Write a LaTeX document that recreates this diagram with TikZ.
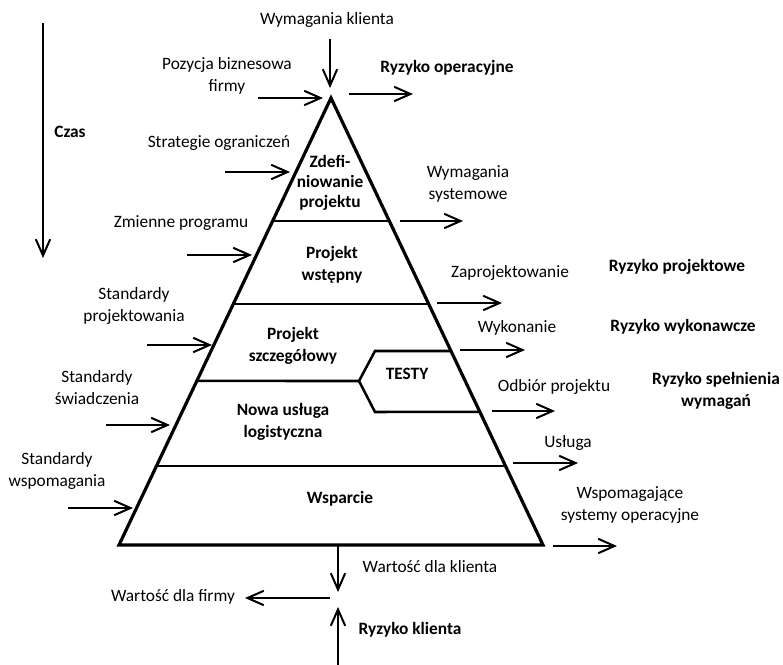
\documentclass[tikz,border=0pt]{standalone}
\usepackage{fontspec}
\setmainfont{Carlito}
\usetikzlibrary{arrows.meta, positioning, calc}

\begin{document}
\begin{tikzpicture}[
    x=0.75pt, y=-0.75pt,
    % Plain labels round the pyramid
    lbl/.style={align=center, inner sep=0pt,
                font=\fontsize{13}{16.5}\selectfont},
    % Bold labels (phases, risks)
    blbl/.style={align=center, inner sep=0pt,
                 font=\fontsize{13}{16.5}\selectfont\bfseries},
    % Pyramid outline and phase dividers
    pyr/.style={line width=2.4pt, line join=miter},
    divider/.style={line width=1.9pt},
    arrow/.style={-{Straight Barb[length=4.3mm, width=3.8mm]}, line width=1.5pt}
]
\useasboundingbox (0,0) rectangle (783,665);

%-------- PYRAMID --------
\coordinate (apex) at (331,98);
\coordinate (bl)   at (119,545);
\coordinate (br)   at (543,545);
\draw[pyr] (apex) -- (br) -- (bl) -- cycle;

\draw[divider] ($(apex)!0.275!(bl)$) -- ($(apex)!0.275!(br)$);
\draw[divider] ($(apex)!0.461!(bl)$) -- ($(apex)!0.461!(br)$);
\draw[divider] ($(apex)!0.823!(bl)$) -- ($(apex)!0.823!(br)$);

%-------- TESTY --------
\coordinate (tTop) at (375,351);
\coordinate (tTip) at (359,381);
\coordinate (tBot) at (375,412);
\draw[divider] ($(apex)!0.566!(br)$) -- (tTop) -- (tTip) -- (tBot)
               -- ($(apex)!0.702!(br)$);
\draw[divider] ($(apex)!0.633!(bl)$) -- (tTip);
\node[blbl] (testy) at (407,374) {TESTY};

%-------- PHASES --------
\node[blbl, font=\fontsize{13}{15}\selectfont\bfseries] (zdef) at (330,183)
    {Zdefi-\\niowanie\\projektu};
\node[blbl] (pwst)  at (332,265) {Projekt\\wstępny};
\node[blbl] (pszcz) at (293,346) {Projekt\\szczegółowy};
\node[blbl] (nowa)  at (283,422) {Nowa usługa\\logistyczna};
\node[blbl] (wsp)   at (340,499) {Wsparcie};

%-------- TIME --------
\node[blbl] (czas) at (70,132) {Czas};
\coordinate (czasA) at (43,23);
\coordinate (czasB) at (43,258);
\draw[arrow] (czasA) -- (czasB);

%-------- INPUTS (left, top) --------
\node[lbl] (wymkl)   at (327,20)  {Wymagania klienta};
\node[lbl] (pozycja) at (227,76)  {Pozycja biznesowa\\firmy};
\node[lbl] (strateg) at (219,143) {Strategie ograniczeń};
\node[lbl] (zmienne) at (181,223) {Zmienne programu};
\node[lbl] (stproj)  at (134,306) {Standardy\\projektowania};
\node[lbl] (stsw)    at (97,388)  {Standardy\\świadczenia};
\node[lbl] (stwsp)   at (57,471)  {Standardy\\wspomagania};

\coordinate (wymklA) at (330,39);   \coordinate (wymklB) at (330,88);
\coordinate (pozA)   at (258,98);   \coordinate (pozB)   at (323,98);
\coordinate (strA)   at (225,172);  \coordinate (strB)   at (290,172);
\coordinate (zmA)    at (187,255);  \coordinate (zmB)    at (252,255);
\coordinate (sprA)   at (147,345);  \coordinate (sprB)   at (212,345);
\coordinate (sswA)   at (106,425);  \coordinate (sswB)   at (170,425);
\coordinate (swpA)   at (68,508);   \coordinate (swpB)   at (133,508);

\draw[arrow] (wymklA) -- (wymklB);
\draw[arrow] (pozA)   -- (pozB);
\draw[arrow] (strA)   -- (strB);
\draw[arrow] (zmA)    -- (zmB);
\draw[arrow] (sprA)   -- (sprB);
\draw[arrow] (sswA)   -- (sswB);
\draw[arrow] (swpA)   -- (swpB);

%-------- OUTPUTS (right) --------
\node[lbl] (wymsys) at (468,184) {Wymagania\\systemowe};
\node[lbl] (zaproj) at (510,273) {Zaprojektowanie};
\node[lbl] (wykon)  at (517,328) {Wykonanie};
\node[lbl] (odbior) at (554,387) {Odbiór projektu};
\node[lbl] (usluga) at (568,443) {Usługa};
\node[lbl] (wspom)  at (630,505) {Wspomagające\\systemy operacyjne};

\coordinate (ropA) at (349,94);   \coordinate (ropB) at (413,94);
\coordinate (wsA)  at (400,221);  \coordinate (wsB)  at (463,221);
\coordinate (zpA)  at (437,303);  \coordinate (zpB)  at (502,303);
\coordinate (wkA)  at (460,350);  \coordinate (wkB)  at (525,350);
\coordinate (odA)  at (492,411);  \coordinate (odB)  at (555,411);
\coordinate (usA)  at (513,463);  \coordinate (usB)  at (578,463);
\coordinate (wmA)  at (553,546);  \coordinate (wmB)  at (617,546);

\draw[arrow] (ropA) -- (ropB);
\draw[arrow] (wsA)  -- (wsB);
\draw[arrow] (zpA)  -- (zpB);
\draw[arrow] (wkA)  -- (wkB);
\draw[arrow] (odA)  -- (odB);
\draw[arrow] (usA)  -- (usB);
\draw[arrow] (wmA)  -- (wmB);

%-------- RISKS --------
\node[blbl] (ryzop)   at (447,68)  {Ryzyko operacyjne};
\node[blbl] (ryzproj) at (677,267) {Ryzyko projektowe};
\node[blbl] (ryzwyk)  at (683,327) {Ryzyko wykonawcze};
\node[blbl] (ryzspel) at (716,391) {Ryzyko spełnienia\\wymagań};

%-------- CUSTOMER VALUE --------
\node[lbl]  (wartkl) at (430,567) {Wartość dla klienta};
\node[lbl]  (wartf)  at (173,597) {Wartość dla firmy};
\node[blbl] (ryzkl)  at (410,630) {Ryzyko klienta};

\coordinate (wkl0) at (338,545);  \coordinate (wkl1) at (338,592);
\coordinate (wf0)  at (330,598);  \coordinate (wf1)  at (245,598);
\coordinate (rk0)  at (338,665);  \coordinate (rk1)  at (338,607);

\draw[arrow] (wkl0) -- (wkl1);
\draw[arrow] (wf0)  -- (wf1);
\draw[arrow] (rk0)  -- (rk1);

\end{tikzpicture}
\end{document}
